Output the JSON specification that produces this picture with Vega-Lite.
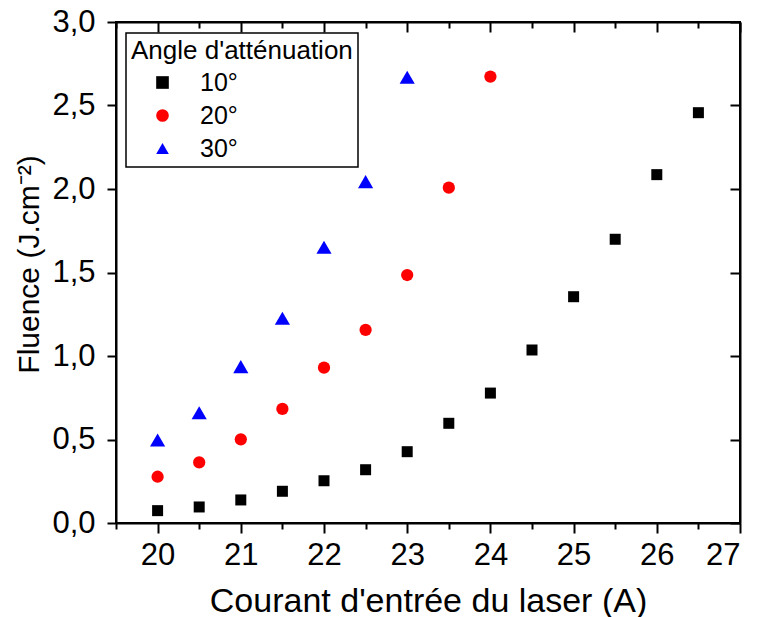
{
  "$schema": "https://vega.github.io/schema/vega-lite/v6.json",
  "width": 624,
  "height": 501,
  "autosize": {"type": "none"},
  "padding": {"left": 116, "top": 22, "right": 20, "bottom": 94},
  "background": "white",
  "config": {
    "font": "Liberation Sans",
    "view": {"stroke": "black", "strokeWidth": 2},
    "axis": {
      "grid": false,
      "domainColor": "black",
      "domainWidth": 2,
      "tickColor": "black",
      "tickWidth": 2,
      "labelFont": "Liberation Sans",
      "labelFontSize": 31,
      "labelColor": "black",
      "titleFont": "Liberation Sans",
      "titleFontSize": 34,
      "titleFontWeight": "normal",
      "titleColor": "black"
    },
    "legend": {
      "orient": "none",
      "legendX": 10,
      "legendY": 11,
      "strokeColor": "black",
      "strokeWidth": 1.5,
      "fillColor": "white",
      "padding": 5,
      "titleFont": "Liberation Sans",
      "titleFontSize": 26,
      "titleFontWeight": "normal",
      "titleColor": "black",
      "titleLimit": 400,
      "titlePadding": 6,
      "labelFont": "Liberation Sans",
      "labelFontSize": 25,
      "labelColor": "black",
      "symbolSize": 160,
      "symbolOffset": 19,
      "labelOffset": 25,
      "rowPadding": 7,
      "symbolStrokeWidth": 0
    }
  },
  "data": {
    "values": [
      {"courant": 20, "fluence": 0.074, "angle": "10°"},
      {"courant": 20.5, "fluence": 0.096, "angle": "10°"},
      {"courant": 21, "fluence": 0.138, "angle": "10°"},
      {"courant": 21.5, "fluence": 0.19, "angle": "10°"},
      {"courant": 22, "fluence": 0.253, "angle": "10°"},
      {"courant": 22.5, "fluence": 0.319, "angle": "10°"},
      {"courant": 23, "fluence": 0.427, "angle": "10°"},
      {"courant": 23.5, "fluence": 0.597, "angle": "10°"},
      {"courant": 24, "fluence": 0.778, "angle": "10°"},
      {"courant": 24.5, "fluence": 1.036, "angle": "10°"},
      {"courant": 25, "fluence": 1.355, "angle": "10°"},
      {"courant": 25.5, "fluence": 1.699, "angle": "10°"},
      {"courant": 26, "fluence": 2.086, "angle": "10°"},
      {"courant": 26.5, "fluence": 2.457, "angle": "10°"},
      {"courant": 20, "fluence": 0.277, "angle": "20°"},
      {"courant": 20.5, "fluence": 0.363, "angle": "20°"},
      {"courant": 21, "fluence": 0.501, "angle": "20°"},
      {"courant": 21.5, "fluence": 0.683, "angle": "20°"},
      {"courant": 22, "fluence": 0.93, "angle": "20°"},
      {"courant": 22.5, "fluence": 1.156, "angle": "20°"},
      {"courant": 23, "fluence": 1.485, "angle": "20°"},
      {"courant": 23.5, "fluence": 2.008, "angle": "20°"},
      {"courant": 24, "fluence": 2.673, "angle": "20°"},
      {"courant": 20, "fluence": 0.497, "angle": "30°"},
      {"courant": 20.5, "fluence": 0.66, "angle": "30°"},
      {"courant": 21, "fluence": 0.936, "angle": "30°"},
      {"courant": 21.5, "fluence": 1.226, "angle": "30°"},
      {"courant": 22, "fluence": 1.651, "angle": "30°"},
      {"courant": 22.5, "fluence": 2.044, "angle": "30°"},
      {"courant": 23, "fluence": 2.669, "angle": "30°"}
    ]
  },
  "resolve": {"axis": {"x": "independent", "y": "independent"}},
  "layer": [
    {
      "transform": [{"filter": "datum.angle === '10°'"}],
      "mark": {"type": "point", "filled": true, "opacity": 1, "strokeWidth": 0, "size": 121},
      "encoding": {
        "x": {
          "field": "courant", "type": "quantitative",
          "scale": {"domain": [19.5, 27], "nice": false, "zero": false},
          "axis": {
            "orient": "bottom",
            "values": [20, 21, 22, 23, 24, 25, 26, 27],
            "tickSize": 10,
            "labelPadding": 7,
            "title": "Courant d'entrée du laser (A)",
            "titlePadding": 14
          }
        },
        "y": {
          "field": "fluence", "type": "quantitative",
          "scale": {"domain": [0, 3], "nice": false},
          "axis": {
            "orient": "left",
            "values": [0, 0.5, 1, 1.5, 2, 2.5, 3],
            "tickSize": 9,
            "labelPadding": 12,
            "labelExpr": "replace(format(datum.value, '.1f'), '.', ',')",
            "title": "Fluence (J.cm⁻²)",
            "titleFontSize": 30,
            "titleX": -72,
            "titleY": 242
          }
        },
        "color": {
          "field": "angle", "type": "nominal",
          "scale": {"domain": ["10°", "20°", "30°"], "range": ["#000000", "#ff0000", "#0000ff"]},
          "legend": {"title": "Angle d'atténuation"}
        },
        "shape": {
          "field": "angle", "type": "nominal",
          "scale": {"domain": ["10°", "20°", "30°"], "range": ["square", "circle", "triangle-up"]},
          "legend": {"title": "Angle d'atténuation"}
        }
      }
    },
    {
      "transform": [{"filter": "datum.angle === '20°'"}],
      "mark": {"type": "point", "filled": true, "opacity": 1, "strokeWidth": 0, "size": 150},
      "encoding": {
        "x": {"field": "courant", "type": "quantitative", "axis": null},
        "y": {"field": "fluence", "type": "quantitative", "axis": null},
        "color": {"field": "angle", "type": "nominal", "legend": {"title": "Angle d'atténuation"}},
        "shape": {"field": "angle", "type": "nominal", "legend": {"title": "Angle d'atténuation"}}
      }
    },
    {
      "transform": [{"filter": "datum.angle === '30°'"}],
      "mark": {"type": "point", "filled": true, "opacity": 1, "strokeWidth": 0, "size": 230},
      "encoding": {
        "x": {"field": "courant", "type": "quantitative", "axis": null},
        "y": {"field": "fluence", "type": "quantitative", "axis": null},
        "color": {"field": "angle", "type": "nominal", "legend": {"title": "Angle d'atténuation"}},
        "shape": {"field": "angle", "type": "nominal", "legend": {"title": "Angle d'atténuation"}}
      }
    },
    {
      "mark": {"type": "point", "opacity": 0},
      "encoding": {
        "x": {
          "field": "courant", "type": "quantitative",
          "axis": {
            "orient": "bottom",
            "values": [19.5, 20.5, 21.5, 22.5, 23.5, 24.5, 25.5, 26.5],
            "tickSize": 6, "labels": false, "domain": false, "title": null
          }
        },
        "y": {
          "field": "fluence", "type": "quantitative",
          "axis": {
            "orient": "right",
            "values": [0, 0.5, 1, 1.5, 2, 2.5, 3],
            "tickSize": -10, "labels": false, "title": null
          }
        }
      }
    },
    {
      "mark": {"type": "point", "opacity": 0},
      "encoding": {
        "x": {
          "field": "courant", "type": "quantitative",
          "axis": {
            "orient": "top",
            "values": [20, 21, 22, 23, 24, 25, 26, 27],
            "tickSize": -10, "labels": false, "title": null
          }
        },
        "y": {"field": "fluence", "type": "quantitative", "axis": null}
      }
    },
    {
      "mark": {"type": "point", "opacity": 0},
      "encoding": {
        "x": {
          "field": "courant", "type": "quantitative",
          "axis": {
            "orient": "top",
            "values": [19.5, 20.5, 21.5, 22.5, 23.5, 24.5, 25.5, 26.5],
            "tickSize": -6, "labels": false, "domain": false, "title": null
          }
        },
        "y": {"field": "fluence", "type": "quantitative", "axis": null}
      }
    }
  ]
}
